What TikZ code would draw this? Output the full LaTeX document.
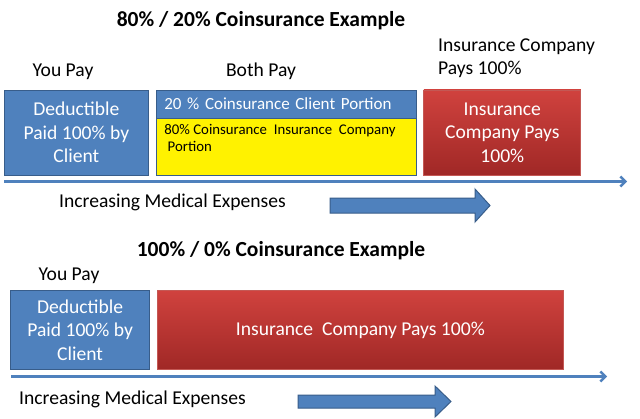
\documentclass[tikz,border=0pt]{standalone}
\usepackage{fontspec}
\setmainfont{Carlito}
\usetikzlibrary{positioning, arrows.meta}

\begin{document}
\begin{tikzpicture}[x=1pt, y=-1pt, >={Straight Barb[length=5pt, width=10pt]},
  bluebox/.style={draw=boxline, fill=boxblue, line width=1.2pt, text=white, align=center, inner sep=0pt, font=\fontsize{19.6}{23.5}\selectfont},
  redbox/.style={draw=redline, line width=0.8pt, top color=redtop, bottom color=redbot, text=white, align=center, inner sep=0pt, font=\fontsize{19.6}{23.5}\selectfont},
  heading/.style={font=\bfseries\fontsize{21.5}{25}\selectfont},
  lbl/.style={font=\fontsize{19.6}{23}\selectfont, inner sep=0pt},
  axis/.style={draw=boxblue, line width=2.4pt, ->},
  fatarrow/.style={draw=boxline, fill=boxblue, line width=1pt, line join=miter}]
  \definecolor{boxblue}{RGB}{79,129,189}
  \definecolor{boxline}{RGB}{56,93,138}
  \definecolor{redtop}{RGB}{208,66,62}
  \definecolor{redbot}{RGB}{160,40,38}
  \definecolor{redline}{RGB}{196,88,84}
  \useasboundingbox[fill=white] (0,0) rectangle (640,418);

  % 80/20 example
  \node[heading] (title1) at (261,21) {80\% / 20\% Coinsurance Example};
  \node[bluebox, anchor=north west, minimum width=144.5pt, minimum height=85pt] (ded1) at (3.5,89.5) {Deductible\\Paid 100\% by\\Client};
  \node[bluebox, anchor=north west, minimum height=57pt, text width=260pt, fill=yellow] (inspart) at ([xshift=6.5pt, yshift=-28pt]ded1.north east) {};
  \node[bluebox, anchor=north west, minimum height=28pt, text width=244pt, inner xsep=8pt, align=left, font=\fontsize{17}{20}\selectfont] (clientpart) at ([xshift=6.5pt]ded1.north east) {20 \% Coinsurance Client Portion};
  \node[anchor=north west, align=left, inner sep=0pt, font=\fontsize{14.8}{17}\selectfont] (instext) at ([shift={(8.5,7)}]inspart.north west) {80\% Coinsurance\ \ Insurance\ \ Company\\ \ Portion};
  \node[redbox, anchor=north west, minimum width=157pt, minimum height=85pt] (ins1) at ([xshift=6.5pt]clientpart.north east) {Insurance\\Company Pays\\100\%};
  \node[lbl] (you1) at (63,72) {You Pay};
  \node[lbl] (both1) at (261,71) {Both Pay};
  \node[lbl, anchor=west, align=left] (insco1) at (438,58.5) {Insurance Company\\Pays 100\%};
  \coordinate (axis1a) at (4,181.5);
  \coordinate (axis1b) at (627,181.5);
  \draw[axis] (axis1a) -- (axis1b);
  \node[lbl, anchor=west] (incr1) at (59,202) {Increasing Medical Expenses};
  \draw[fatarrow] (330,198) -- (475,198) -- (475,189) -- (490,205.5) -- (475,222) -- (475,213) -- (330,213) -- cycle;

  % 100/0 example
  \node[heading] (title2) at (281,251) {100\% / 0\% Coinsurance Example};
  \node[bluebox, anchor=north west, minimum width=139pt, minimum height=79pt] (ded2) at (10,290) {Deductible\\Paid 100\% by\\Client};
  \node[redbox, anchor=north west, minimum width=406.5pt, minimum height=79pt] (ins2) at ([xshift=6.5pt]ded2.north east) {Insurance\ \ Company Pays 100\%};
  \node[lbl] (you2) at (69,276) {You Pay};
  \coordinate (axis2a) at (11,376.5);
  \coordinate (axis2b) at (607,376.5);
  \draw[axis] (axis2a) -- (axis2b);
  \node[lbl, anchor=west] (incr2) at (19,399) {Increasing Medical Expenses};
  \draw[fatarrow] (298,395) -- (435,395) -- (435,386) -- (451,401.5) -- (435,417) -- (435,408) -- (298,408) -- cycle;
\end{tikzpicture}
\end{document}
